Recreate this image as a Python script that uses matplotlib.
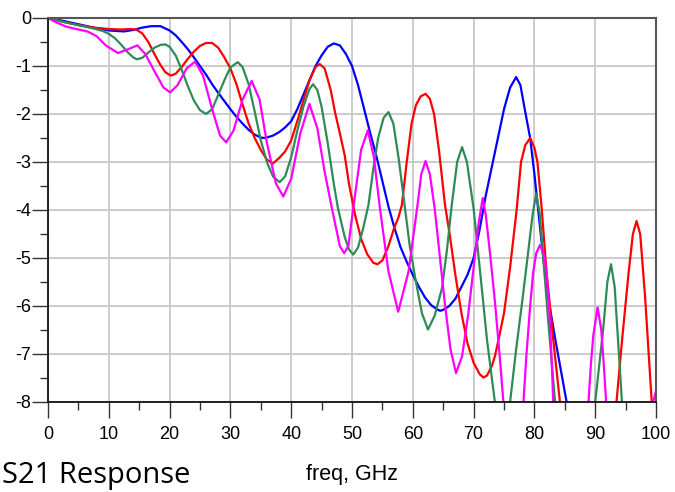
import numpy as np
import matplotlib.pyplot as plt
from matplotlib.ticker import MultipleLocator

nan = np.nan

# S21 magnitude (dB) vs frequency (GHz) for four line variants
blue_f = [0, 1, 2.5, 5, 7.5, 10, 12.5, 14, 15.5, 17, 18.5, 20, 21, 22, 23, 24, 25, 26, 27, 28,
          29, 30, 31, 32, 33, 34, 35, 35.5, 36, 37, 38, 39, 40, 41, 42, 43, 44, 45, 46, 47,
          48, 49, 50, 51, 52, 53, 54, 55, 56, 57, 58, 59, 60, 61, 62, 63, 64, 64.5, 65, 66,
          67, 68, 69, 70, 71, 72, 73, 74, 75, 76, 77, 77.7, 78.5, 79.3, 80, 80.6, 81.7, 82.5,
          83.4, 84.3, 85.3, 85.9]
blue_db = [0, -0.02, -0.06, -0.13, -0.2, -0.26, -0.28, -0.25, -0.2, -0.17, -0.17, -0.26, -0.36,
           -0.5, -0.65, -0.82, -1.0, -1.18, -1.38, -1.56, -1.73, -1.9, -2.06, -2.2, -2.33, -2.43,
           -2.49, -2.5, -2.49, -2.45, -2.38, -2.28, -2.15, -1.9, -1.6, -1.3, -1.0, -0.78, -0.6,
           -0.53, -0.57, -0.75, -1.0, -1.4, -1.9, -2.4, -2.87, -3.4, -3.93, -4.38, -4.78, -5.08,
           -5.35, -5.6, -5.82, -5.98, -6.07, -6.1, -6.08, -6.0, -5.85, -5.6, -5.35, -5.0, -4.4,
           -3.7, -3.1, -2.5, -1.9, -1.45, -1.23, -1.4, -1.96, -2.5, -3.25, -3.97, -5.28, -6.0,
           -6.67, -7.3, -8.0, -8.5]

red_f = [0, 1, 2.5, 5, 7.5, 10, 12, 13.5, 14.5, 15.5, 16.5, 17.5, 18.5, 19.3, 20.2, 21, 22, 23,
         24, 25, 26, 27, 28, 29, 30, 31, 32, 33, 34, 35, 36, 37, 38, 39, 40, 41, 42, 43, 44,
         44.7, 45.5, 46.5, 47.2, 48, 48.8, 49.5, 50.5, 51.5, 52.5, 53.5, 54.2, 55, 56, 57, 57.6,
         58.2, 59, 59.8, 60.5, 61.3, 62.1, 62.8, 63.5, 64.3, 65.3, 66, 67, 68, 69, 70, 71, 71.6,
         72.2, 73, 73.5, 74.1, 75, 76, 77.1, 77.8, 78.5, 79.3, 80, 80.5, 81.2, 82.0, 83.1, 84.2,
         84.6, nan,
         93.2, 93.5, 94.5, 95.5, 96.2, 96.8, 97.4, 98.2, 98.8, 99.3, 99.5]
red_db = [0, -0.03, -0.08, -0.15, -0.2, -0.23, -0.24, -0.23, -0.24, -0.32, -0.5, -0.75, -0.98,
          -1.13, -1.2, -1.16, -1.02, -0.85, -0.7, -0.58, -0.52, -0.52, -0.62, -0.82, -1.05,
          -1.38, -1.8, -2.2, -2.5, -2.75, -2.95, -3.03, -2.92, -2.78, -2.55, -2.15, -1.72, -1.3,
          -1.02, -0.96, -1.05, -1.5, -1.96, -2.4, -2.86, -3.45, -4.1, -4.6, -4.92, -5.1, -5.13,
          -5.05, -4.75, -4.35, -4.17, -3.9, -3.0, -2.2, -1.82, -1.63, -1.58, -1.68, -2.0, -2.75,
          -3.9, -4.45, -5.35, -6.15, -6.78, -7.18, -7.42, -7.49, -7.45, -7.25, -7.05, -6.7,
          -6.15, -5.2, -3.97, -3.0, -2.65, -2.5, -2.7, -3.0, -3.97, -5.3, -6.7, -8.0, -8.5, nan,
          -8.5, -8.0, -6.6, -5.3, -4.5, -4.23, -4.5, -5.8, -7.0, -8.0, -8.4]

green_f = [0, 1, 2.5, 5, 7.5, 9, 10, 11, 12, 13, 14, 14.6, 15.5, 16.5, 17.5, 18.5, 19.3, 20, 21,
           22, 23, 24, 25, 26, 27, 28, 29, 30, 31.2, 32, 33, 34, 35, 36, 37, 38.1, 39, 40, 41,
           42, 43, 43.6, 44.3, 45, 46, 47, 47.7, 48.8, 49.5, 50.2, 51, 51.8, 52.7, 53.5, 54.3,
           55.2, 56, 56.8, 57.7, 58.7, 59.5, 60.4, 61.5, 62.5, 63.6, 64.8, 65.6, 66.4, 67.3,
           68.1, 68.9, 70.0, 71.0, 72.2, 73.5, 73.8, nan,
           75.7, 76.0, 77.0, 78.0, 79.0, 79.7, 80.3, 80.9, 82.2, 83.4, 83.7, nan,
           89.8, 90.0, 91.3, 92.0, 92.6, 93.2, 93.8, 94.4, 94.6]
green_db = [0, -0.03, -0.08, -0.15, -0.22, -0.27, -0.33, -0.42, -0.55, -0.7, -0.82, -0.86,
            -0.83, -0.72, -0.62, -0.56, -0.55, -0.6, -0.78, -1.08, -1.42, -1.72, -1.92, -2.0,
            -1.9, -1.6, -1.3, -1.03, -0.92, -1.02, -1.38, -1.95, -2.55, -3.0, -3.3, -3.42, -3.3,
            -2.9, -2.35, -1.85, -1.48, -1.38, -1.5, -1.85, -2.6, -3.45, -3.97, -4.56, -4.82,
            -4.93, -4.78, -4.4, -3.9, -3.15, -2.5, -2.08, -1.96, -2.2, -2.95, -3.95, -4.75,
            -5.42, -6.15, -6.49, -6.2, -5.63, -4.85, -3.9, -3.0, -2.69, -3.0, -3.97, -5.2, -6.7,
            -8.0, -8.5, nan,
            -8.5, -8.0, -6.9, -5.9, -4.85, -4.1, -3.66, -4.1, -6.2, -8.0, -8.5, nan,
            -8.5, -8.0, -6.5, -5.5, -5.13, -5.6, -6.8, -8.0, -8.4]

mag_f = [0, 1.5, 3, 5, 6.5, 8, 9.5, 11.5, 13, 14.7, 16, 17.6, 19, 20.1, 21.3, 22.8, 24.2, 25.5,
         27, 28.3, 29.3, 30.5, 32, 33.5, 34.8, 36, 37.5, 38.7, 40, 41.5, 43, 44.3, 45.5, 46.7,
         48, 48.7, 49.4, 50.2, 51.5, 52.6, 53.6, 54.6, 56, 57.6, 59.3, 60.7, 61.4, 62.1, 62.8,
         63.6, 65.3, 66.2, 67.1, 68.1, 69.1, 70.0, 70.8, 71.5, 72.0, 72.7, 73.5, 74.2, 74.9,
         75.2, nan,
         77.9, 78.2, 78.7, 79.3, 79.8, 80.3, 80.9, 81.5, 82.0, 82.4, 82.8, 83.1, 83.4, nan,
         88.6, 88.9, 89.3, 89.7, 90.4, 91.0, 91.4, 91.8, 92.0, nan,
         99.3, 99.5, 100]
mag_db = [0, -0.1, -0.18, -0.24, -0.28, -0.38, -0.57, -0.73, -0.66, -0.57, -0.75, -1.13, -1.45,
          -1.55, -1.4, -1.05, -0.91, -1.2, -1.9, -2.45, -2.59, -2.35, -1.7, -1.31, -1.7, -2.6,
          -3.45, -3.72, -3.35, -2.4, -1.79, -2.3, -3.2, -3.97, -4.75, -4.9, -4.75, -3.97, -2.75,
          -2.34, -2.9, -3.97, -5.28, -6.12, -5.28, -3.97, -3.25, -2.98, -3.25, -3.97, -5.98,
          -6.9, -7.4, -7.05, -6.19, -5.2, -4.3, -3.75, -4.1, -4.9, -5.9, -6.9, -8.0, -8.5, nan,
          -8.5, -8.0, -7.0, -6.0, -5.3, -4.9, -4.73, -4.9, -5.3, -6.0, -7.0, -8.0, -8.5, nan,
          -8.5, -8.0, -7.2, -6.6, -6.03, -6.5, -7.2, -8.0, -8.5, nan,
          -8.5, -8.0, -7.78]

xticks = np.arange(0, 101, 10)
yticks = np.arange(-8, 1, 1)

plt.rcParams['font.family'] = ['Liberation Sans', 'DejaVu Sans']

fig = plt.figure(figsize=(6.75, 4.92), dpi=100)
ax = fig.add_axes([48 / 675, 90 / 492, 608 / 675, 384 / 492])

ax.plot(blue_f, blue_db, color='#0000ff', lw=1.6)
ax.plot(red_f, red_db, color='#ff0000', lw=1.6)
ax.plot(green_f, green_db, color='#2e8b57', lw=1.6)
ax.plot(mag_f, mag_db, color='#ff00ff', lw=1.6)

ax.set_xlim(0, 100)
ax.set_ylim(-8, 0)
ax.set_xticks(xticks)
ax.set_yticks(yticks)
ax.set_yticklabels([f"{v:d}" for v in yticks])
ax.xaxis.set_minor_locator(MultipleLocator(5))
ax.yaxis.set_minor_locator(MultipleLocator(0.5))
ax.grid(True, which='major', color='#c4c4c4', lw=1.2)
ax.set_axisbelow(True)

ax.tick_params(which='major', direction='out', length=11.5, width=1.0, color='#333333',
               labelsize=13)
ax.tick_params(which='minor', direction='out', length=5.8, width=1.0, color='#333333')
ax.tick_params(axis='y', which='major', pad=0.8)
ax.tick_params(axis='x', which='major', pad=5.5)

for side in ('left', 'bottom'):
    ax.spines[side].set_color('#111111')
    ax.spines[side].set_linewidth(1.3)
for side in ('top', 'right'):
    ax.spines[side].set_color('#555555')
    ax.spines[side].set_linewidth(1.5)

fig.text(352 / 675, 12 / 492, "freq, GHz", ha='center', va='baseline', fontsize=15.5)
fig.text(2 / 675, 9 / 492, "S21 Response", ha='left', va='baseline', fontsize=21,
         family=['Open Sans', 'DejaVu Sans'])

fig.savefig("out.png", dpi=100)
